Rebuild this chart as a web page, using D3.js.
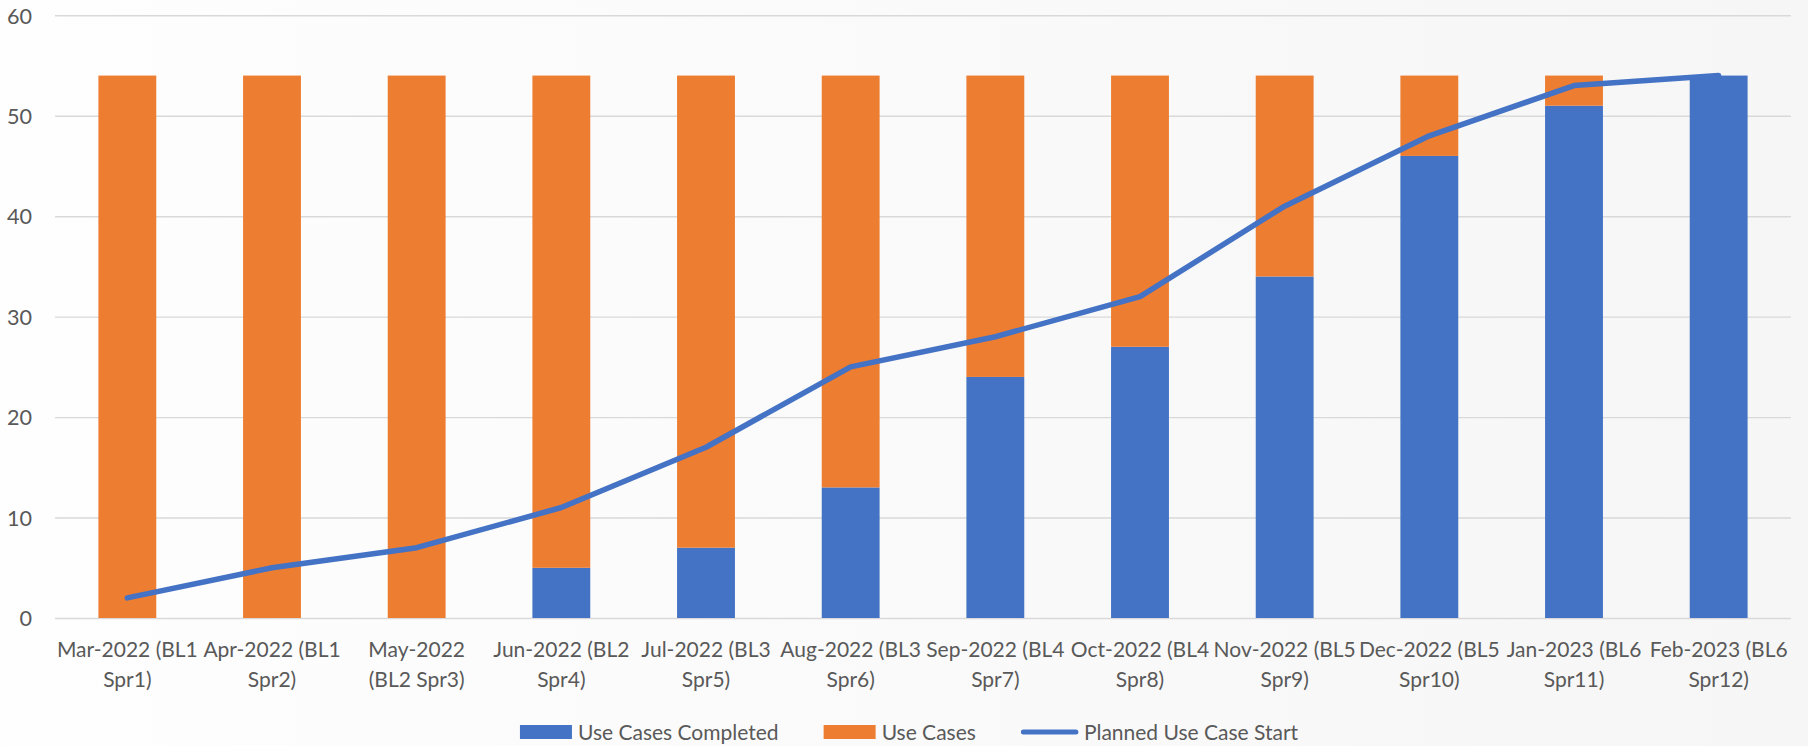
<!DOCTYPE html>
<html>
<head>
<meta charset="utf-8">
<script src="https://cdn.jsdelivr.net/npm/d3@7"></script>
<style>
  html, body { margin: 0; padding: 0; background: #fafafa; }
  svg { display: block; }
  text { font-family: Lato, "Open Sans", sans-serif; fill: #595959; }
</style>
</head>
<body>
<svg id="chart" width="1808" height="746"></svg>
<script>
// ---- Data ----
const categories = [
  "Mar-2022 (BL1 Spr1)", "Apr-2022 (BL1 Spr2)", "May-2022 (BL2 Spr3)",
  "Jun-2022 (BL2 Spr4)", "Jul-2022 (BL3 Spr5)", "Aug-2022 (BL3 Spr6)",
  "Sep-2022 (BL4 Spr7)", "Oct-2022 (BL4 Spr8)", "Nov-2022 (BL5 Spr9)",
  "Dec-2022 (BL5 Spr10)", "Jan-2023 (BL6 Spr11)", "Feb-2023 (BL6 Spr12)"
];
const tickLabelLines = [
  ["Mar-2022 (BL1", "Spr1)"], ["Apr-2022 (BL1", "Spr2)"], ["May-2022", "(BL2 Spr3)"],
  ["Jun-2022 (BL2", "Spr4)"], ["Jul-2022 (BL3", "Spr5)"], ["Aug-2022 (BL3", "Spr6)"],
  ["Sep-2022 (BL4", "Spr7)"], ["Oct-2022 (BL4", "Spr8)"], ["Nov-2022 (BL5", "Spr9)"],
  ["Dec-2022 (BL5", "Spr10)"], ["Jan-2023 (BL6", "Spr11)"], ["Feb-2023 (BL6", "Spr12)"]
];
const useCasesCompleted = [0, 0, 0, 5, 7, 13, 24, 27, 34, 46, 51, 54];
const useCases = [54, 54, 54, 49, 47, 41, 30, 27, 20, 8, 3, 0];
const plannedUseCaseStart = [2, 5, 7, 11, 17, 25, 28, 32, 41, 48, 53, 54];
const yTicks = [0, 10, 20, 30, 40, 50, 60];
const seriesNames = ["Use Cases Completed", "Use Cases", "Planned Use Case Start"];
const colors = { completed: "#4472C4", useCases: "#ED7D31", planned: "#4472C4" };

// ---- Layout ----
const W = 1808, H = 746;
const mLeft = 55, mRight = 1791, mTop = 15.3, mBottom = 618;
const fontSize = 21;

const svg = d3.select("#chart");

// background gradient
const defs = svg.append("defs");
const grad = defs.append("linearGradient").attr("id", "bg").attr("x1", "0").attr("x2", "1").attr("y1", "0").attr("y2", "0");
grad.append("stop").attr("offset", "0").attr("stop-color", "#fefefe");
grad.append("stop").attr("offset", "1").attr("stop-color", "#f6f6f6");
svg.append("rect").attr("width", W).attr("height", H).attr("fill", "url(#bg)");

const x = d3.scaleBand().domain(categories).range([mLeft, mRight]).paddingInner(0.6).paddingOuter(0.3);
const y = d3.scaleLinear().domain([0, 60]).range([mBottom, mTop]);

// gridlines + y labels
const yAxis = d3.axisLeft(y).tickValues(yTicks).tickSize(-(mRight - mLeft)).tickPadding(23);
const gy = svg.append("g").attr("transform", `translate(${mLeft},0)`).call(yAxis);
gy.select(".domain").remove();
gy.selectAll(".tick line").attr("stroke", "#d9d9d9").attr("stroke-width", 1.4);
gy.selectAll(".tick text").attr("font-size", fontSize + 0.6).attr("fill", "#595959")
  .attr("font-family", "Lato, 'Open Sans', sans-serif").attr("dy", "0.36em");

// stacked bars
const table = categories.map((c, i) => ({ cat: c, completed: useCasesCompleted[i], useCases: useCases[i] }));
const stack = d3.stack().keys(["completed", "useCases"])(table);
svg.append("g").selectAll("g").data(stack).join("g")
  .attr("fill", d => colors[d.key])
  .selectAll("rect").data(d => d).join("rect")
  .attr("x", d => x(d.data.cat))
  .attr("width", x.bandwidth())
  .attr("y", d => y(d[1]))
  .attr("height", d => Math.max(0, y(d[0]) - y(d[1])));

// line
const line = d3.line().x((d, i) => x(categories[i]) + x.bandwidth() / 2).y(d => y(d));
svg.append("path").datum(plannedUseCaseStart)
  .attr("d", line).attr("fill", "none").attr("stroke", colors.planned)
  .attr("stroke-width", 5.5).attr("stroke-linecap", "round").attr("stroke-linejoin", "round");

// x axis labels
const xAxis = d3.axisBottom(x).tickSize(0).tickFormat(() => "");
const gx = svg.append("g").attr("transform", `translate(0,${mBottom})`).call(xAxis);
gx.select(".domain").remove();
gx.selectAll(".tick").each(function(d, i) {
  const t = d3.select(this).append("text").attr("text-anchor", "middle")
    .attr("font-size", fontSize).attr("fill", "#595959");
  tickLabelLines[i].forEach((ln, j) => {
    t.append("tspan").attr("x", 0).attr("y", 39.3 + j * 30).text(ln);
  });
});

// legend
const legendY = 732;
const lg = svg.append("g");
const items = [
  { name: seriesNames[0], type: "rect", color: colors.completed },
  { name: seriesNames[1], type: "rect", color: colors.useCases },
  { name: seriesNames[2], type: "line", color: colors.planned }
];
let cx = 0;
const swW = 52, gapST = 6, gapItems = 45;
items.forEach((it, i) => {
  const g = lg.append("g").attr("transform", `translate(${cx},0)`);
  if (it.type === "rect") {
    g.append("rect").attr("x", 0).attr("y", legendY - 7).attr("width", swW).attr("height", 14).attr("fill", it.color);
  } else {
    g.append("line").attr("x1", 2.5).attr("x2", swW + 3).attr("y1", legendY).attr("y2", legendY)
      .attr("stroke", it.color).attr("stroke-width", 5).attr("stroke-linecap", "round");
  }
  const sw = it.type === "rect" ? swW : swW + 5;
  const t = g.append("text").attr("x", sw + gapST).attr("y", legendY + 7.5)
    .attr("font-size", fontSize).attr("fill", "#595959").text(it.name);
  cx += sw + gapST + t.node().getComputedTextLength() + gapItems;
});
const totalW = cx - gapItems;
lg.attr("transform", `translate(${909 - totalW / 2},0)`);
</script>
</body>
</html>
